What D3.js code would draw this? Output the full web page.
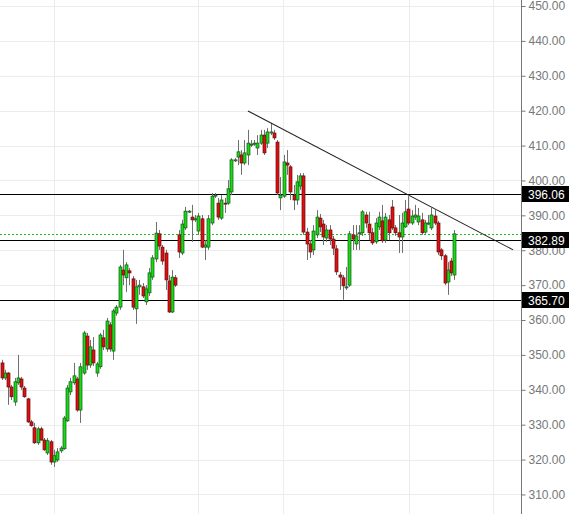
<!DOCTYPE html>
<html><head><meta charset="utf-8">
<script src="https://cdn.jsdelivr.net/npm/d3@7"></script>
<style>html,body{margin:0;padding:0;background:#fff;overflow:hidden}</style>
</head><body>
<svg id="c" width="569" height="514"></svg>
<script>
// OHLC values (price units)
const opens  = [347.7,343.4,344.8,340.8,336.5,342.0,343.1,340.5,337.4,330.8,329.1,324.8,328.8,325.6,321.9,325.1,319.3,319.9,322.5,323.1,331.1,339.4,342.0,343.1,334.2,344.8,355.4,347.1,351.4,344.8,346.6,354.9,351.7,358.6,351.1,362.0,363.7,374.3,372.1,374.1,371.8,363.2,369.5,369.5,365.2,367.8,372.3,377.5,384.7,380.9,379.2,371.2,362.3,372.1,384.4,379.2,386.4,391.0,389.5,388.7,385.5,389.0,380.9,380.9,387.8,395.5,393.5,389.2,393.5,393.5,396.7,405.6,406.7,407.3,405.0,407.3,410.2,410.4,409.3,410.7,413.0,410.7,413.6,413.6,411.0,395.0,395.5,405.0,403.9,395.8,394.4,398.4,401.3,385.2,381.8,380.1,384.4,389.2,387.5,383.5,385.8,383.2,380.4,372.9,372.1,369.2,370.0,384.4,381.8,384.7,385.0,390.1,387.5,385.0,382.4,386.7,388.4,382.9,388.7,392.4,386.4,385.0,383.8,386.7,391.8,387.8,389.5,388.1,388.7,385.2,387.5,386.4,389.8,387.8,380.1,378.4,370.9,376.9,372.9];
const highs  = [348.6,345.7,345.1,341.4,343.4,350.0,343.7,341.1,337.7,331.4,330.5,329.4,329.4,326.2,326.2,325.6,322.8,323.3,323.9,332.5,341.4,343.4,347.7,343.7,347.7,356.9,356.3,354.3,355.1,348.0,356.3,357.2,360.6,359.4,363.2,364.3,375.8,380.1,376.6,374.9,372.6,371.5,371.5,370.6,370.0,374.9,378.6,388.1,385.8,381.5,380.1,372.9,374.3,372.9,385.8,388.7,392.4,391.5,393.0,390.1,390.7,390.1,382.9,390.1,396.4,396.4,395.0,395.8,395.0,400.1,406.4,406.4,411.6,408.7,411.6,414.5,411.6,411.6,413.0,414.5,414.5,415.0,416.5,414.5,411.6,401.0,407.3,408.7,404.4,398.7,401.6,402.1,402.1,386.4,382.9,387.2,391.5,390.4,388.7,387.2,387.2,384.1,381.5,373.8,372.9,375.2,385.5,387.2,387.2,387.2,391.5,391.0,391.0,386.4,389.2,391.0,393.0,390.7,390.1,394.4,387.2,390.1,390.7,394.4,395.5,391.5,393.0,392.1,390.7,388.7,390.1,392.1,391.5,388.4,380.6,378.9,376.6,377.8,385.8];
const lows   = [342.8,342.8,335.7,337.1,335.4,341.4,340.0,337.7,330.5,329.4,324.5,324.2,325.4,322.5,321.3,318.5,317.9,319.3,321.9,322.8,330.8,338.5,341.4,333.7,330.5,344.3,345.7,346.3,346.8,343.7,346.0,351.4,350.9,350.9,348.6,361.2,362.9,370.0,368.0,370.0,362.9,358.9,367.2,366.3,364.3,366.9,371.5,376.6,380.1,375.8,368.6,362.0,362.0,369.5,377.8,378.6,385.8,390.7,382.4,388.1,384.4,380.6,377.2,380.1,387.2,395.0,388.7,388.7,390.7,393.0,395.8,405.3,404.4,401.6,404.4,404.4,409.6,409.9,407.3,410.2,407.3,409.3,413.0,411.6,395.8,391.5,395.0,401.6,394.4,391.5,393.0,397.3,384.4,377.2,377.8,378.6,383.5,385.2,381.5,382.4,381.5,378.6,372.9,368.6,365.8,368.6,369.5,380.1,380.1,380.1,384.1,386.4,382.9,381.5,381.8,385.8,382.1,382.1,382.9,385.8,384.1,379.2,379.2,386.4,387.2,387.2,388.7,387.2,384.4,384.7,387.2,385.8,387.2,378.6,377.2,370.0,367.2,372.6,371.5];
const closes = [343.4,344.8,340.8,338.0,342.3,343.4,340.8,338.0,330.8,329.7,324.8,328.8,325.6,322.8,325.4,319.3,321.1,322.2,323.3,331.9,340.5,342.3,344.0,334.2,346.6,356.3,347.1,352.3,347.7,347.4,355.7,352.3,359.7,351.7,362.6,363.7,375.2,372.9,375.8,373.5,363.7,369.5,370.0,366.9,368.9,373.5,377.8,384.9,381.2,376.9,371.5,362.3,372.3,370.0,379.5,387.5,391.2,391.2,388.7,389.0,389.8,380.9,381.5,389.0,395.5,395.8,389.5,394.4,393.3,397.6,405.9,405.9,408.2,405.0,407.9,410.7,410.4,410.7,410.7,413.0,407.9,413.9,413.9,412.2,396.4,395.8,405.3,404.4,396.7,394.4,399.6,401.3,385.2,381.8,379.5,385.5,389.5,386.7,383.8,385.8,383.2,380.6,373.8,372.3,369.8,369.5,384.7,383.2,384.1,385.0,391.0,387.8,385.0,382.1,387.8,389.5,382.7,389.5,385.0,386.4,385.0,383.8,387.8,391.0,387.8,389.8,390.1,389.8,385.0,387.8,387.8,390.1,387.8,379.5,378.4,370.6,374.3,373.5,384.7];

// reference levels and annotations
const levelValues = [396.06, 382.89, 365.70];
const lastPrice = 384.7;
const trendIdx = [75.1, 155.9];
const trendVal = [419.9, 380.1];
const gridIdx = [15.85, 59.8, 85.7, 124.2, 149.8];
const tickValues = [310,320,330,340,350,360,370,380,390,400,410,420,430,440,450];

const W = 569, H = 514, axisX = 521;
const svg = d3.select("#c");
const x = d3.scaleLinear().domain([0, 158.3]).range([1.5, axisX]);
const y = d3.scaleLinear().domain([304.4, 451.72]).range([H, 0]);

// grid
const g = svg.append("g");
g.selectAll(".hg").data(tickValues).join("line")
  .attr("x1", 0).attr("x2", axisX)
  .attr("y1", d => Math.round(y(d)) + 0.5).attr("y2", d => Math.round(y(d)) + 0.5)
  .attr("stroke", "#ececec").attr("stroke-width", 1);
g.selectAll(".vg").data(gridIdx).join("line")
  .attr("x1", d => Math.round(x(d)) + 0.5).attr("x2", d => Math.round(x(d)) + 0.5)
  .attr("y1", 0).attr("y2", H)
  .attr("stroke", "#ececec").attr("stroke-width", 1);

// level lines
svg.selectAll(".lv").data(levelValues).join("line")
  .attr("x1", 0).attr("x2", axisX)
  .attr("y1", d => Math.round(y(d)) + 0.5).attr("y2", d => Math.round(y(d)) + 0.5)
  .attr("stroke", "#000").attr("stroke-width", 1);

// last price dashed
svg.append("line")
  .attr("x1", 0).attr("x2", axisX)
  .attr("y1", Math.round(y(lastPrice)) + 0.5).attr("y2", Math.round(y(lastPrice)) + 0.5)
  .attr("stroke", "#22bb22").attr("stroke-width", 1).attr("stroke-dasharray", "2,2");

// candles
const data = opens.map((o, i) => ({i, o, h: highs[i], l: lows[i], c: closes[i]}));
const cg = svg.append("g");
cg.selectAll(".wick").data(data).join("line")
  .attr("x1", d => Math.round(x(d.i)) + 0.5).attr("x2", d => Math.round(x(d.i)) + 0.5)
  .attr("y1", d => y(d.h)).attr("y2", d => y(d.l))
  .attr("stroke", "#6f6f6f").attr("stroke-width", 1);
cg.selectAll(".body").data(data).join("rect")
  .attr("x", d => Math.round(x(d.i)) - 1)
  .attr("width", 3)
  .attr("y", d => y(Math.max(d.o, d.c)))
  .attr("height", d => Math.max(1, Math.abs(y(d.o) - y(d.c))))
  .attr("fill", d => d.c >= d.o ? "#12dd12" : "#e40d0d")
  .attr("stroke", d => d.c >= d.o ? "#1d4f1d" : "#5a1010")
  .attr("stroke-width", 0.7);

// trendline
svg.append("line")
  .attr("x1", x(trendIdx[0])).attr("y1", y(trendVal[0]))
  .attr("x2", x(trendIdx[1])).attr("y2", y(trendVal[1]))
  .attr("stroke", "#222").attr("stroke-width", 1.1);

// axis
svg.append("rect").attr("x", axisX + 0.5).attr("y", 0).attr("width", W - axisX).attr("height", H).attr("fill", "#fff");
const axis = d3.axisRight(y).tickValues(tickValues).tickSize(4).tickPadding(3).tickFormat(d3.format(".2f"));
const ag = svg.append("g").attr("transform", `translate(${axisX + 0.5},0)`).call(axis);
ag.select(".domain").attr("stroke", "#777").attr("d", `M0,0V${H}`);
ag.selectAll(".tick line").attr("stroke", "#777");
ag.selectAll(".tick text").attr("fill", "#777").attr("font-family", "Liberation Sans, Arial, sans-serif").attr("font-size", 12);

// level labels
const lg = svg.selectAll(".lbl").data(levelValues).join("g")
  .attr("transform", d => `translate(${axisX + 1},${Math.round(y(d))})`);
lg.append("rect").attr("x", 0).attr("y", -8).attr("width", W - axisX).attr("height", 16).attr("fill", "#000");
lg.append("text").attr("x", 6).attr("y", 4.5).attr("fill", "#fff")
  .attr("font-family", "Liberation Sans, Arial, sans-serif").attr("font-size", 12)
  .text(d => d.toFixed(2));
</script>
</body></html>
